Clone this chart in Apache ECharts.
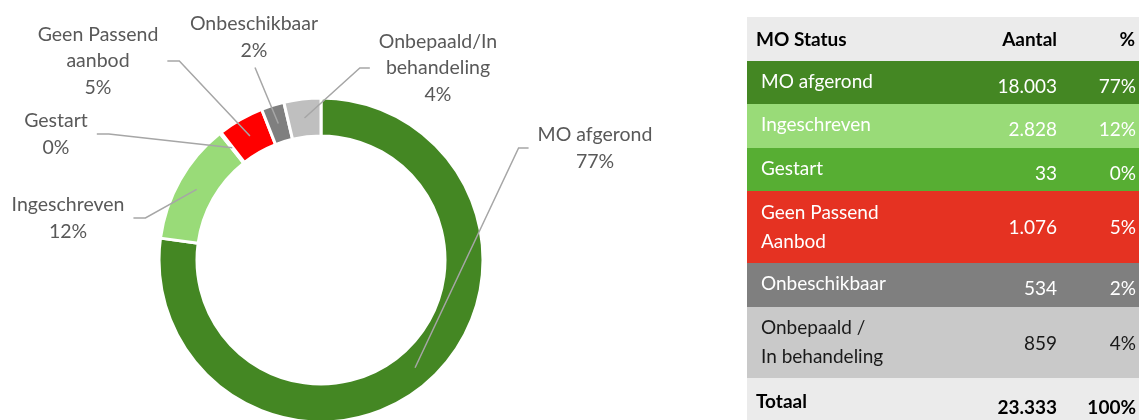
<!DOCTYPE html>
<html>
<head>
<meta charset="utf-8">
<script src="https://cdn.jsdelivr.net/npm/echarts@6/dist/echarts.min.js"></script>
<style>
  html, body { margin: 0; padding: 0; background: #fff; }
  #main { width: 1139px; height: 420px; }
</style>
</head>
<body>
<div id="main"></div>
<script>
// data
const pieNames = ['MO afgerond', 'Ingeschreven', 'Gestart', 'Geen Passend\naanbod', 'Onbeschikbaar', 'Onbepaald/In\nbehandeling']
const tableNames = ['MO afgerond', 'Ingeschreven', 'Gestart', 'Geen Passend\nAanbod', 'Onbeschikbaar', 'Onbepaald /\nIn behandeling']
const counts = [18003, 2828, 33, 1076, 534, 859]
const tableHeader = ['MO Status', 'Aantal', '%']
const totalLabel = 'Totaal'

// styles
const pieColors = ['#448723', '#99db78', '#57ae33', '#ff0000', '#7f7f7f', '#bfbfbf']
const rowColors = ['#448723', '#99db78', '#57ae33', '#e53222', '#7f7f7f', '#c9c9c9']
const rowTextColors = ['#fff', '#fff', '#fff', '#fff', '#fff', '#1a1a1a']
const FONT = 'Lato, "Open Sans", sans-serif'

// layout
const CX = 321, CY = 260, R0 = 124, R1 = 162
// label centre + which side the leader line comes in from
const labelPos = [[595, 148], [68, 218], [56, 134], [98, 61], [254, 37], [438, 68]]
const labelSide = ['right', 'left', 'left', 'left', 'top', 'right']
const TX = 747, TW = 1139 - 747
const headerTop = 17, headerH = 44
const rowHeights = [43, 44, 43, 72, 44, 71]
const totalH = 44

const total = counts.reduce((a, b) => a + b, 0)
const pct = v => Math.round(v / total * 100) + '%'
const fmt = v => String(v).replace(/\B(?=(\d{3})+(?!\d))/g, '.')

// point in the middle of the ring for slice i
function ringPoint(i) {
  let before = 0
  for (let k = 0; k < i; k++) before += counts[k]
  const a = (90 - (before + counts[i] / 2) / total * 360) * Math.PI / 180
  const r = (R0 + R1) / 2
  return [CX + r * Math.cos(a), CY - r * Math.sin(a)]
}

// table built with graphic elements
const graphic = []
function txt(x, y, text, opts) {
  graphic.push({
    type: 'text', x: x, y: y, silent: true,
    style: Object.assign({
      text: text, fontFamily: FONT, fontSize: 19, fill: '#fff',
      align: 'left', verticalAlign: 'middle', lineHeight: 29
    }, opts)
  })
}
graphic.push({ type: 'rect', shape: { x: TX, y: headerTop, width: TW, height: headerH }, style: { fill: '#ebebeb' } })
txt(756, headerTop + 23, tableHeader[0], { fill: '#000', fontWeight: 'bold' })
txt(1057, headerTop + 23, tableHeader[1], { fill: '#000', fontWeight: 'bold', align: 'right' })
txt(1135, headerTop + 23, tableHeader[2], { fill: '#000', fontWeight: 'bold', align: 'right' })
let y = headerTop + headerH
counts.forEach((v, i) => {
  const h = rowHeights[i]
  const mid = y + h / 2
  const twoLines = tableNames[i].indexOf('\n') >= 0
  graphic.push({ type: 'rect', shape: { x: TX, y: y, width: TW, height: h }, style: { fill: rowColors[i] } })
  txt(761, twoLines ? mid : mid - 1, tableNames[i], { fill: rowTextColors[i] })
  txt(1057, twoLines ? mid + 1 : mid + 4, fmt(v), { fill: rowTextColors[i], align: 'right' })
  txt(1136, twoLines ? mid + 1 : mid + 4, pct(v), { fill: rowTextColors[i], align: 'right' })
  y += h
})
graphic.push({ type: 'rect', shape: { x: TX, y: y, width: TW, height: totalH }, style: { fill: '#ebebeb' } })
txt(756, y + 24, totalLabel, { fill: '#000', fontWeight: 'bold' })
txt(1057, y + 30, fmt(total), { fill: '#000', fontWeight: 'bold', align: 'right' })
txt(1136, y + 30, '100%', { fill: '#000', fontWeight: 'bold', align: 'right' })

const pieBase = {
  type: 'pie',
  center: [CX, CY],
  radius: [R0, R1],
  startAngle: 90,
  clockwise: true,
  avoidLabelOverlap: false,
  silent: true,
  emphasis: { disabled: true }
}

const chart = echarts.init(document.getElementById('main'))
const option = {
  animation: false,
  graphic: graphic,
  series: [
    // coloured ring
    Object.assign({}, pieBase, {
      z: 2,
      itemStyle: { borderColor: '#fff', borderWidth: 3 },
      label: { show: false },
      labelLine: { show: false },
      data: counts.map((v, i) => ({ value: v, name: pieNames[i], itemStyle: { color: pieColors[i] } }))
    }),
    // same ring, transparent, only for labels so leader lines sit on top of the ring
    Object.assign({}, pieBase, {
      z: 5,
      itemStyle: { color: 'rgba(0,0,0,0)', borderWidth: 0 },
      label: {
        show: true,
        position: 'outside',
        color: '#595959',
        fontFamily: FONT,
        fontSize: 19.5,
        lineHeight: 26.5,
        formatter: p => pieNames[p.dataIndex] + '\n' + pct(p.value)
      },
      labelLine: { show: true, lineStyle: { color: '#a6a6a6', width: 1.5 } },
      labelLayout: params => {
        const i = params.dataIndex
        const lx = labelPos[i][0], ly = labelPos[i][1]
        const w = params.labelRect.width, h = params.labelRect.height
        const s = ringPoint(i)
        let pts
        if (labelSide[i] === 'right') {
          const ex = lx - w / 2 - 9
          pts = [s, [ex - 10, ly], [ex, ly]]
        } else if (labelSide[i] === 'left') {
          const ex = lx + w / 2 + 9
          pts = [s, [ex + 12, ly], [ex, ly]]
        } else {
          const ey = ly + h / 2 + 4
          pts = [s, [lx + 1, ey], [lx + 1, ey]]
        }
        return { x: lx, y: ly, align: 'center', verticalAlign: 'middle', labelLinePoints: pts }
      },
      data: counts.map((v, i) => ({ value: v, name: pieNames[i] }))
    })
  ]
}
chart.setOption(option)
</script>
</body>
</html>
